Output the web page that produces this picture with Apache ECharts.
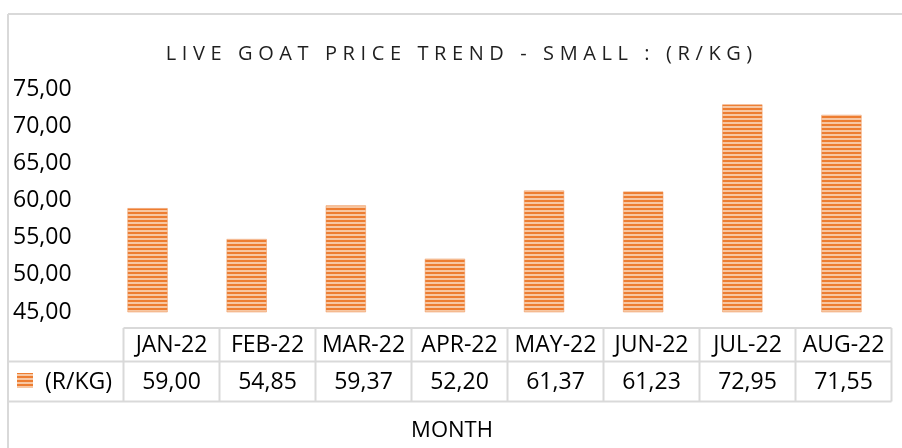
<!DOCTYPE html>
<html>
<head>
<meta charset="utf-8">
<script src="https://cdn.jsdelivr.net/npm/echarts@6/dist/echarts.min.js"></script>
<style>
html,body{margin:0;padding:0;background:#fff;}
#chart{width:902px;height:448px;}
</style>
</head>
<body>
<div id="chart"></div>
<script>
const TITLE = 'LIVE GOAT PRICE TREND - SMALL : (R/KG)';
const categories = ['JAN-22','FEB-22','MAR-22','APR-22','MAY-22','JUN-22','JUL-22','AUG-22'];
const values = [59.00, 54.85, 59.37, 52.20, 61.37, 61.23, 72.95, 71.55];
const seriesName = '(R/KG)';
const axisTitle = 'MONTH';
const yMin = 45, yMax = 75, yStep = 5;

// letter spacing for the title (canvas letterSpacing)
const origFill = CanvasRenderingContext2D.prototype.fillText;
CanvasRenderingContext2D.prototype.fillText = function (t, x, y, m) {
  if (t === TITLE) {
    const prev = this.letterSpacing;
    this.letterSpacing = '5.6px';
    if (m === undefined) origFill.call(this, t, x + 2.8, y); else origFill.call(this, t, x + 2.8, y, m);
    this.letterSpacing = prev;
  } else {
    origFill.apply(this, arguments);
  }
};

function stripeCanvas() {
  const c = document.createElement('canvas');
  c.width = 4; c.height = 4;
  const ctx = c.getContext('2d');
  ctx.fillStyle = '#F7C7A3';
  ctx.fillRect(0, 0, 4, 4);
  ctx.fillStyle = '#ED7D31';
  ctx.fillRect(0, 0, 4, 2);
  return c;
}
const pattern = { image: stripeCanvas(), repeat: 'repeat' };

const fmt = v => v.toFixed(2).replace('.', ',');
const FONT = '"Open Sans", "Noto Sans", sans-serif';
const lineColor = '#d9d9d9';

// table layout
const tX0 = 8, tCol0 = 123.5, colW = 96, tTop = 328, tMid = 361.5, tBot = 401.5;
const tRight = tCol0 + colW * categories.length;
const lineStyle = { stroke: lineColor, lineWidth: 2 };
const graphics = [];
// outer chart border
graphics.push({ type: 'line', shape: { x1: 8, y1: 14, x2: 902, y2: 14 }, style: lineStyle, silent: true });
graphics.push({ type: 'line', shape: { x1: 8, y1: 14, x2: 8, y2: 448 }, style: lineStyle, silent: true });
// table lines
graphics.push({ type: 'line', shape: { x1: tCol0, y1: tTop, x2: tRight, y2: tTop }, style: lineStyle, silent: true });
graphics.push({ type: 'line', shape: { x1: tX0, y1: tMid, x2: tRight, y2: tMid }, style: lineStyle, silent: true });
graphics.push({ type: 'line', shape: { x1: tX0, y1: tBot, x2: tRight, y2: tBot }, style: lineStyle, silent: true });
for (let i = 0; i <= categories.length; i++) {
  const x = tCol0 + colW * i;
  graphics.push({ type: 'line', shape: { x1: x, y1: tTop, x2: x, y2: tBot }, style: lineStyle, silent: true });
}
categories.forEach((c, i) => {
  const cx = tCol0 + colW * i + colW / 2;
  graphics.push({ type: 'text', x: cx, y: (tTop + tMid) / 2 + 1, style: { text: c, font: '23px ' + FONT, fill: '#000', align: 'center', verticalAlign: 'middle' }, silent: true });
  graphics.push({ type: 'text', x: cx, y: (tMid + tBot) / 2 + 1, style: { text: fmt(values[i]), font: '23px ' + FONT, fill: '#000', align: 'center', verticalAlign: 'middle' }, silent: true });
});
// legend key
graphics.push({ type: 'rect', shape: { x: 17, y: 373, width: 16, height: 15 }, style: { fill: pattern }, silent: true });
graphics.push({ type: 'text', x: 45, y: (tMid + tBot) / 2 + 1, style: { text: seriesName, font: '23px ' + FONT, fill: '#000', align: 'left', verticalAlign: 'middle' }, silent: true });
// axis title
graphics.push({ type: 'text', x: 452, y: 431, style: { text: axisTitle, font: '22px ' + FONT, fill: '#000', align: 'center', verticalAlign: 'middle' }, silent: true });

const chart = echarts.init(document.getElementById('chart'), null, { renderer: 'canvas' });
chart.setOption({
  animation: false,
  backgroundColor: '#fff',
  title: {
    text: TITLE,
    left: 454,
    top: 39,
    textAlign: 'center',
    textStyle: { fontFamily: FONT, fontSize: 20, fontWeight: 'normal', color: '#1f1f1f' }
  },
  grid: { left: 98, right: 11, top: 89, bottom: 136, containLabel: false },
  xAxis: {
    type: 'category',
    data: categories,
    axisLine: { show: false },
    axisTick: { show: false },
    axisLabel: { show: false },
    splitLine: { show: false }
  },
  yAxis: {
    type: 'value',
    min: yMin, max: yMax, interval: yStep,
    axisLine: { show: false },
    axisTick: { show: false },
    splitLine: { show: false },
    axisLabel: {
      formatter: v => fmt(v),
      align: 'left',
      margin: 85,
      fontFamily: FONT,
      fontSize: 23,
      color: '#000'
    }
  },
  series: [{
    name: seriesName,
    type: 'bar',
    data: values,
    barWidth: '41%',
    itemStyle: { color: pattern, borderColor: 'rgba(240,150,90,0.5)', borderWidth: 1 }
  }],
  graphic: graphics
});
</script>
</body>
</html>
